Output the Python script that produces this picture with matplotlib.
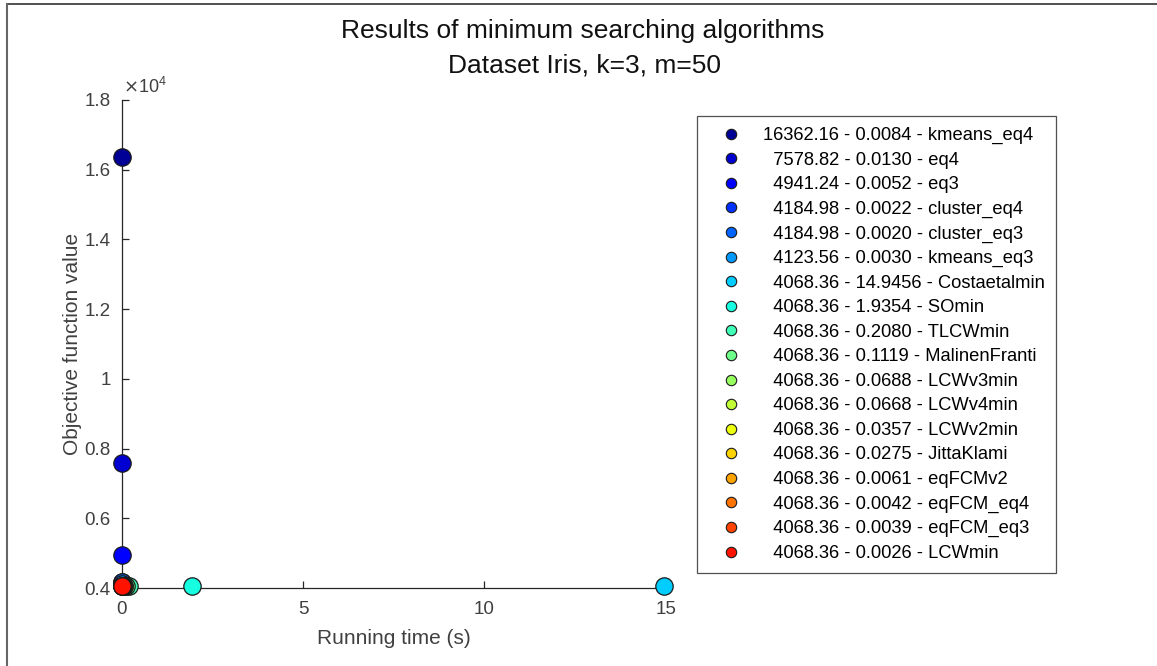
import matplotlib
matplotlib.use('Agg')
import matplotlib.pyplot as plt
import numpy as np
from matplotlib.lines import Line2D
from matplotlib.ticker import FuncFormatter

plt.rcParams['font.family'] = ['Liberation Sans', 'DejaVu Sans']

# data
names = ['kmeans_eq4', 'eq4', 'eq3', 'cluster_eq4', 'cluster_eq3', 'kmeans_eq3',
         'Costaetalmin', 'SOmin', 'TLCWmin', 'MalinenFranti', 'LCWv3min', 'LCWv4min',
         'LCWv2min', 'JittaKlami', 'eqFCMv2', 'eqFCM_eq4', 'eqFCM_eq3', 'LCWmin']
obj_values = [16362.16, 7578.82, 4941.24, 4184.98, 4184.98, 4123.56,
              4068.36, 4068.36, 4068.36, 4068.36, 4068.36, 4068.36,
              4068.36, 4068.36, 4068.36, 4068.36, 4068.36, 4068.36]
run_times = [0.0084, 0.0130, 0.0052, 0.0022, 0.0020, 0.0030,
             14.9456, 1.9354, 0.2080, 0.1119, 0.0688, 0.0668,
             0.0357, 0.0275, 0.0061, 0.0042, 0.0039, 0.0026]
x_ticks = [0, 5, 10, 15]
y_ticks = [4000, 6000, 8000, 10000, 12000, 14000, 16000, 18000]

colors = plt.cm.jet(np.linspace(0.02, 0.89, len(names)))
dark = '#262626'
grey = '#404040'

fig = plt.figure(figsize=(11.57, 6.66), dpi=100)
ax = fig.add_axes([0.1054, 0.117, 0.470, 0.733])

handles = []
for i in range(len(names)):
    ax.plot(run_times[i], obj_values[i], 'o', markersize=12.5, markerfacecolor=colors[i],
            markeredgecolor='#1a1a1a', markeredgewidth=0.9, clip_on=False, zorder=3 + i)
    # padded like a %8.2f column
    val = f'{obj_values[i]:8.2f}'.replace(' ', '  ')
    lbl = f'{val} - {run_times[i]:.4f} - {names[i]}'
    handles.append(Line2D([], [], ls='none', marker='o', markersize=7.5,
                          markerfacecolor=colors[i], markeredgecolor='#1a1a1a',
                          markeredgewidth=0.8, label=lbl))

ax.set_xlim(0, 15)
ax.set_ylim(4000, 18000)
ax.set_xticks(x_ticks)
ax.set_yticks(y_ticks)
ax.yaxis.set_major_formatter(FuncFormatter(lambda v, p: f'{v/1e4:g}'))
ax.text(0.002, 1.006, r'$\times\mathregular{10^4}$', transform=ax.transAxes,
        fontsize=13, color=grey, ha='left', va='bottom')

for s in ['top', 'right']:
    ax.spines[s].set_visible(False)
for s in ['left', 'bottom']:
    ax.spines[s].set_color(dark)
    ax.spines[s].set_linewidth(0.9)
ax.tick_params(direction='in', length=5, width=0.9, color=dark,
               labelcolor=grey, labelsize=13.5)
ax.tick_params(axis='x', pad=9)
ax.tick_params(axis='y', pad=8)

ax.set_xlabel('Running time (s)', fontsize=15, color=grey, labelpad=8)
ax.set_ylabel('Objective function value', fontsize=15, color=grey, labelpad=2)

fig.text(0.504, 0.953, 'Results of minimum searching algorithms', fontsize=19,
         ha='center', va='center', color='#111111')
fig.text(0.505, 0.902, 'Dataset Iris, k=3, m=50', fontsize=19,
         ha='center', va='center', color='#111111')

leg = fig.legend(handles=handles, loc='upper left', bbox_to_anchor=(0.6024, 0.8258),
                 fontsize=13.2, frameon=True, fancybox=False, labelspacing=0.41,
                 handletextpad=0.5, borderpad=0.6, handlelength=2.5,
                 borderaxespad=0, edgecolor=dark)
leg.get_frame().set_linewidth(0.9)

# screenshot frame lines (top and left)
fig.add_artist(Line2D([7 / 1157, 1.0], [1 - 4 / 666, 1 - 4 / 666], color='#333333', lw=1.2))
fig.add_artist(Line2D([7 / 1157, 7 / 1157], [0.0, 1 - 4 / 666], color='#666666', lw=1.5))

fig.savefig('out.png', dpi=100)
